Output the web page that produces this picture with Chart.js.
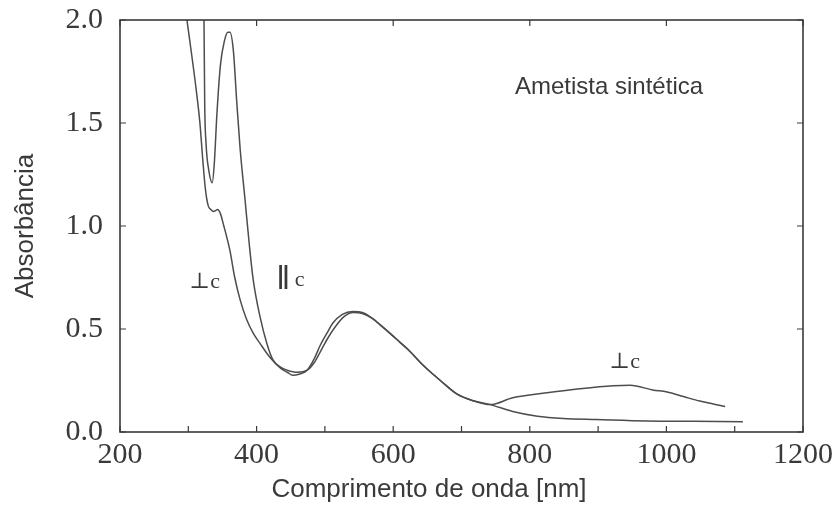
<!DOCTYPE html>
<html lang="pt">
<head>
  <meta charset="UTF-8" />
  <title>Ametista sintética</title>
  <script src="https://cdn.jsdelivr.net/npm/chart.js"></script>
  <style>
    html, body { margin: 0; padding: 0; background: #fff; }
    #wrap { width: 837px; height: 527px; }
  </style>
</head>
<body>
  <div id="wrap"><canvas id="spectrum"></canvas></div>

  <script>
    // perpendicular to c axis
    const perpNm  = [298, 305, 312, 317, 321, 325, 329, 333, 337, 340, 343, 347, 352, 356, 361, 368, 376, 385, 395, 405,
                     420, 435, 445, 453, 462, 474, 485, 493, 503, 512, 525, 541, 555, 570, 581, 595, 610, 625, 639, 655,
                     669, 693, 717, 742, 775, 825, 873, 922, 947, 980, 1001, 1025, 1049, 1070, 1086];
    const perpAbs = [2.0, 1.83, 1.65, 1.5, 1.33, 1.18, 1.1, 1.08, 1.07, 1.075, 1.08, 1.06, 1.0, 0.95, 0.88, 0.75, 0.64, 0.55, 0.48, 0.43,
                     0.36, 0.31, 0.29, 0.275, 0.28, 0.30, 0.36, 0.42, 0.48, 0.53, 0.57, 0.585, 0.58, 0.55, 0.52, 0.48, 0.435, 0.39, 0.34, 0.29,
                     0.25, 0.185, 0.152, 0.133, 0.166, 0.19, 0.21, 0.225, 0.227, 0.204, 0.194, 0.172, 0.15, 0.135, 0.124];

    // parallel to c axis
    const parNm  = [323, 324, 326, 330, 335, 338, 342, 347, 353, 358, 361, 366, 371, 376, 383, 389, 395, 405, 415, 424,
                    435, 445, 459, 474, 485, 495, 505, 515, 528, 541, 555, 570, 581, 595, 610, 625, 639, 655, 669, 693,
                    717, 742, 775, 811, 849, 898, 972, 1040, 1112];
    const parAbs = [2.0, 1.6, 1.4, 1.27, 1.21, 1.3, 1.55, 1.78, 1.9, 1.94, 1.94, 1.85, 1.6, 1.37, 1.13, 0.92, 0.74, 0.56, 0.43, 0.35,
                    0.315, 0.30, 0.29, 0.30, 0.34, 0.40, 0.46, 0.51, 0.56, 0.58, 0.575, 0.55, 0.52, 0.48, 0.435, 0.39, 0.34, 0.29, 0.25, 0.185,
                    0.152, 0.133, 0.10, 0.077, 0.066, 0.061, 0.054, 0.052, 0.05];

    const xLabels = [200, 400, 600, 800, 1000, 1200];
    const yLabels = [0.0, 0.5, 1.0, 1.5, 2.0];

    const toPoints = (xs, ys) => xs.map((x, i) => ({ x: x, y: ys[i] }));

    const ink = '#3a3a3a';
    const lineInk = '#4d4d4d';
    const serif = "'Liberation Serif', 'DejaVu Serif', serif";
    const sans = "'Liberation Sans', Arial, sans-serif";

    // frame, inward ticks and the free text
    const framePlugin = {
      id: 'frame',
      afterDatasetsDraw(chart) {
        const { ctx, chartArea: a, scales } = chart;
        const x = scales.x, y = scales.y;
        ctx.save();
        ctx.strokeStyle = ink;
        ctx.lineWidth = 1.6;
        ctx.strokeRect(a.left, a.top, a.right - a.left, a.bottom - a.top);

        ctx.lineWidth = 1.2;
        ctx.beginPath();
        x.ticks.forEach(t => {
          const px = x.getPixelForValue(t.value);
          ctx.moveTo(px, a.bottom); ctx.lineTo(px, a.bottom - 6);
          if (t.value % 200 === 0) { ctx.moveTo(px, a.top); ctx.lineTo(px, a.top + 6); }
        });
        y.ticks.forEach(t => {
          const py = y.getPixelForValue(t.value);
          ctx.moveTo(a.left, py); ctx.lineTo(a.left + 6, py);
          ctx.moveTo(a.right, py); ctx.lineTo(a.right - 6, py);
        });
        ctx.stroke();

        ctx.fillStyle = ink;
        ctx.textAlign = 'center';
        ctx.textBaseline = 'middle';
        ctx.font = '24px ' + sans;
        ctx.fillText('Ametista sintética', x.getPixelForValue(916), y.getPixelForValue(1.672));

        ctx.font = '22px ' + serif;
        ctx.fillText('\u22A5c', x.getPixelForValue(324), y.getPixelForValue(0.728));
        ctx.fillText('\u22A5c', x.getPixelForValue(939), y.getPixelForValue(0.34));
        ctx.fillText('c', x.getPixelForValue(463), y.getPixelForValue(0.735));
        ctx.font = '34px ' + sans;
        ctx.fillText('\u2016', x.getPixelForValue(439), y.getPixelForValue(0.74));

        ctx.font = '26px ' + sans;
        ctx.textBaseline = 'alphabetic';
        ctx.fillText('Comprimento de onda [nm]', 429, 497);
        ctx.restore();
      }
    };

    const lineStyle = {
      borderColor: lineInk,
      borderWidth: 1.5,
      pointRadius: 0,
      fill: false,
      cubicInterpolationMode: 'monotone'
    };

    new Chart(document.getElementById('spectrum'), {
      type: 'line',
      data: {
        datasets: [
          Object.assign({ label: '\u22A5c', data: toPoints(perpNm, perpAbs) }, lineStyle),
          Object.assign({ label: '\u2016c', data: toPoints(parNm, parAbs) }, lineStyle)
        ]
      },
      options: {
        responsive: true,
        maintainAspectRatio: false,
        animation: false,
        layout: { padding: { top: 20, right: 34, left: 0, bottom: 0 } },
        plugins: { legend: { display: false }, tooltip: { enabled: false } },
        scales: {
          x: {
            type: 'linear',
            min: 200,
            max: 1200,
            grid: { display: false, drawTicks: false },
            border: { display: false },
            ticks: {
              stepSize: 100,
              autoSkip: false,
              maxRotation: 0,
              padding: 5,
              color: ink,
              font: { family: serif, size: 30 },
              callback: v => xLabels.includes(v) ? String(v) : ''
            },
            afterFit: s => { s.height = 95; s.paddingLeft = 0; s.paddingRight = 0; }
          },
          y: {
            min: 0,
            max: 2,
            grid: { display: false, drawTicks: false },
            border: { display: false },
            ticks: {
              stepSize: 0.5,
              padding: 17,
              color: ink,
              font: { family: serif, size: 30 },
              callback: v => yLabels.includes(v) ? v.toFixed(1) : ''
            },
            title: {
              display: true,
              text: 'Absorbância',
              color: ink,
              font: { family: sans, size: 26 },
              padding: { top: 10, bottom: 0 }
            },
            afterFit: s => { s.width = 120; s.paddingTop = 0; s.paddingBottom = 0; }
          }
        }
      },
      plugins: [framePlugin]
    });
  </script>
</body>
</html>
